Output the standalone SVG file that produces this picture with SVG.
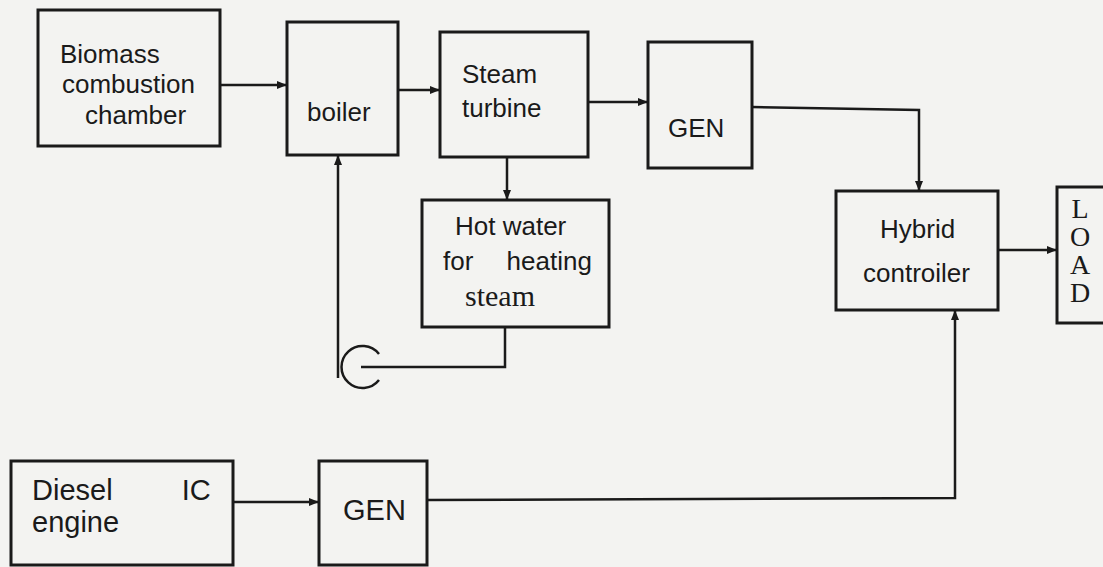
<svg xmlns="http://www.w3.org/2000/svg" width="1103" height="567" viewBox="0 0 1103 567">
<defs>
<marker id="arr" markerWidth="12" markerHeight="10" refX="10" refY="5" orient="auto" markerUnits="userSpaceOnUse">
<path d="M0,1 L10,5 L0,9 Z" fill="#1a1a1a"/>
</marker>
<style>
.box{fill:none;stroke:#1a1a1a;stroke-width:3}
.ln{fill:none;stroke:#1a1a1a;stroke-width:2.5}
.t{font-family:"Liberation Sans",Arial,sans-serif;font-size:26px;fill:#1a1a1a}
.tb{font-family:"Liberation Sans",Arial,sans-serif;font-size:29px;fill:#1a1a1a}
.s{font-family:"Liberation Serif","Times New Roman",serif;font-size:28px;fill:#1a1a1a}
</style>
</defs>
<rect x="0" y="0" width="1103" height="567" fill="#f3f3f1"/>
<g id="biomass">
<rect class="box" x="38" y="10" width="182" height="136"/>
<text class="t" x="60" y="63">Biomass</text>
<text class="t" x="62" y="93">combustion</text>
<text class="t" x="85" y="124">chamber</text>
</g>
<g id="boiler">
<rect class="box" x="287" y="22" width="111" height="133"/>
<text class="t" x="307" y="121">boiler</text>
</g>
<g id="steam-turbine">
<rect class="box" x="440" y="32" width="148" height="125"/>
<text class="t" x="462" y="83">Steam</text>
<text class="t" x="462" y="117">turbine</text>
</g>
<g id="gen-top">
<rect class="box" x="648" y="42" width="104" height="126"/>
<text class="t" x="668" y="137">GEN</text>
</g>
<g id="hot-water">
<rect class="box" x="422" y="200" width="187" height="127"/>
<text class="t" x="455" y="235">Hot water</text>
<text class="t" x="443" y="270" style="word-spacing:26px">for heating</text>
<text class="s" x="465" y="306" style="font-size:30px">steam</text>
</g>
<g id="pump">
<path class="ln" d="M379,354 A21,21 0 1,0 379,380"/>
</g>
<g id="hybrid">
<rect class="box" x="836" y="191" width="162" height="119"/>
<text class="t" x="880" y="238">Hybrid</text>
<text class="t" x="863" y="282">controiler</text>
</g>
<g id="load">
<rect class="box" x="1057" y="187" width="60" height="136"/>
<text class="s" x="1080" y="218" text-anchor="middle">L</text>
<text class="s" x="1080" y="246" text-anchor="middle">O</text>
<text class="s" x="1080" y="274" text-anchor="middle">A</text>
<text class="s" x="1080" y="302" text-anchor="middle">D</text>
</g>
<g id="diesel">
<rect class="box" x="11" y="461" width="222" height="104"/>
<text class="tb" x="32" y="500" style="word-spacing:61px">Diesel IC</text>
<text class="tb" x="32" y="532">engine</text>
</g>
<g id="gen-bottom">
<rect class="box" x="319" y="461" width="108" height="104"/>
<text class="tb" x="343" y="520">GEN</text>
</g>
<g id="connectors">
<line class="ln" x1="220" y1="85" x2="287" y2="85" marker-end="url(#arr)"/>
<line class="ln" x1="398" y1="90" x2="440" y2="90" marker-end="url(#arr)"/>
<line class="ln" x1="588" y1="102" x2="648" y2="102" marker-end="url(#arr)"/>
<polyline class="ln" points="752,107 919,110 919,191" marker-end="url(#arr)"/>
<line class="ln" x1="507" y1="157" x2="507" y2="200" marker-end="url(#arr)"/>
<polyline class="ln" points="505,327 505,367 361,367"/>
<line class="ln" x1="338" y1="378" x2="338" y2="155" marker-end="url(#arr)"/>
<line class="ln" x1="998" y1="250" x2="1057" y2="250" marker-end="url(#arr)"/>
<line class="ln" x1="233" y1="502" x2="319" y2="502" marker-end="url(#arr)"/>
<polyline class="ln" points="427,500 955,498 955,310" marker-end="url(#arr)"/>
</g>
</svg>
